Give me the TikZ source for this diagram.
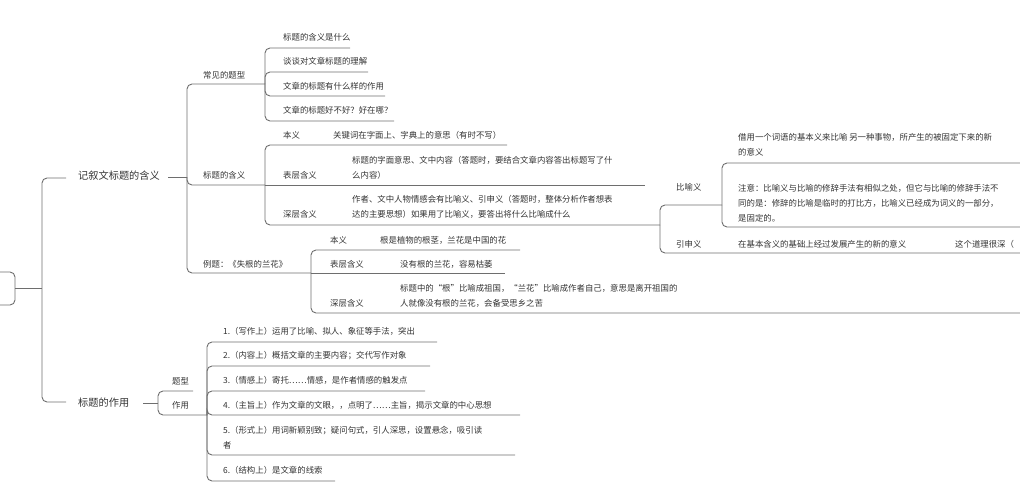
\documentclass[tikz,border=0pt]{standalone}
\usepackage{fontspec}
\setmainfont{Noto Sans CJK SC}
\usetikzlibrary{positioning}
\definecolor{inkgray}{HTML}{333333}
\definecolor{linegray}{HTML}{6E6E6E}
\tikzset{
    txt/.style={anchor=west, inner sep=0pt, text=inkgray,
       font=\fontsize{8.4}{15}\selectfont, align=left},
    big/.style={txt, font=\fontsize{10.2}{15}\selectfont},
    ln/.style={draw=linegray, line width=0.9pt, rounded corners=5pt}
}
\begin{document}
\begin{tikzpicture}[x=1pt,y=-1pt]
\useasboundingbox (0,0) rectangle (1020,500);
%
% root and trunk
\draw[ln] (-20,272) -- (15,272) -- (15,305) -- (-20,305);
\draw[ln, rounded corners=0pt] (15,288) -- (42,288);
\node[big] (narr) at (78,176) {记叙文标题的含义};
\node[big] (func) at (78,403) {标题的作用};
\draw[ln] (66,178) -| (42,288) |- (66,402);
%
% 记叙文标题的含义
\draw[ln, rounded corners=0pt] (168,177) -- (187,177);
\node[txt] (types) at (203,75) {常见的题型};
\node[txt] (mean) at (203,175) {标题的含义};
\node[txt] (eg) at (203,264) {例题：《失根的兰花》};
\draw[ln] (187,177) |- (265,84);
\draw[ln] (187,177) |- (265,185);
\draw[ln] (187,177) |- (311,273);
%
% 常见的题型
\node[txt] (q1) at (283,37) {标题的含义是什么};
\node[txt] (q2) at (283,61) {谈谈对文章标题的理解};
\node[txt] (q3) at (283,86) {文章的标题有什么样的作用};
\node[txt] (q4) at (283,110) {文章的标题好不好？好在哪？};
\foreach \y/\e in {48/350, 72/368, 96/385, 121/394}
  \draw[ln] (265,84) |- (\e,\y);
%
% 标题的含义
\node[txt] (m1) at (283,135) {本义};
\node[txt] (m1l) at (333,135) {关键词在字面上、字典上的意思（有时不写）};
\node[txt] (m2) at (283,175) {表层含义};
\node[txt] (m2l) at (352,168) {标题的字面意思、文中内容（答题时，要结合文章内容答出标题写了什\\么内容）};
\node[txt] (m3) at (283,214) {深层含义};
\node[txt] (m3l) at (352,207) {作者、文中人物情感会有比喻义、引申义（答题时，整体分析作者想表\\达的主要思想）如果用了比喻义，要答出将什么比喻成什么};
\draw[ln] (265,185) |- (507,145);
\draw[ln] (265,185) -- (645,185);
\draw[ln] (265,185) |- (660,225);
%
% 比喻义 / 引申义
\node[txt] (fig) at (676,187) {比喻义};
\node[txt] (ext) at (676,244) {引申义};
\draw[ln] (660,225) |- (722,205);
\draw[ln] (660,225) |- (1025,253);
\node[txt] (figa) at (738,145) {借用一个词语的基本义来比喻 另一种事物，所产生的被固定下来的新\\的意义};
\node[txt] (figb) at (738,203) {注意：比喻义与比喻的修辞手法有相似之处，但它与比喻的修辞手法不\\同的是：修辞的比喻是临时的打比方，比喻义已经成为词义的一部分，\\是固定的。};
\draw[ln] (722,205) |- (1025,163);
\draw[ln] (722,205) |- (1025,227);
\node[txt] (exta) at (738,244) {在基本含义的基础上经过发展产生的新的意义};
\node[txt] (extb) at (955,244) {这个道理很深（};
%
% 例题
\node[txt] (e1) at (330,240) {本义};
\node[txt] (e1l) at (380,240) {根是植物的根茎，兰花是中国的花};
\node[txt] (e2) at (330,264) {表层含义};
\node[txt] (e2l) at (400,264) {没有根的兰花，容易枯萎};
\node[txt] (e3) at (330,303) {深层含义};
\node[txt] (e3l) at (400,296) {标题中的“根”比喻成祖国，“兰花”比喻成作者自己，意思是离开祖国的\\人就像没有根的兰花，会备受思乡之苦};
\draw[ln] (311,273) |- (520,250);
\draw[ln] (311,273) -- (505,273);
\draw[ln] (311,273) |- (1025,313);
%
% 标题的作用
\draw[ln, rounded corners=0pt] (143,403) -- (158,403);
\node[txt] (f1) at (172,381) {题型};
\node[txt] (f2) at (172,405) {作用};
\draw[ln] (158,403) |- (193,391);
\draw[ln] (158,403) |- (207,415);
\node[txt] (r1) at (223,331) {1.（写作上）运用了比喻、拟人、象征等手法，突出};
\node[txt] (r2) at (223,356) {2.（内容上）概括文章的主要内容；交代写作对象};
\node[txt] (r3) at (223,380) {3.（情感上）寄托……情感，是作者情感的触发点};
\node[txt] (r4) at (223,405) {4.（主旨上）作为文章的文眼，，点明了……主旨，揭示文章的中心思想};
\node[txt] (r5) at (223,438) {5.（形式上）用词新颖别致；疑问句式，引人深思，设置悬念，吸引读\\者};
\node[txt] (r6) at (223,470) {6.（结构上）是文章的线索};
\foreach \y/\e in {342/437, 366/430, 391/425, 415/520, 455/515, 481/335}
  \draw[ln] (207,415) |- (\e,\y);
\end{tikzpicture}
\end{document}
